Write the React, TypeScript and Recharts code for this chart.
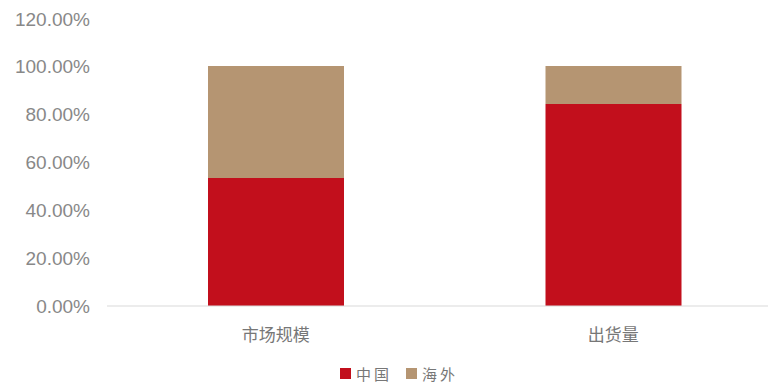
import { BarChart, Bar, XAxis, YAxis, Legend } from 'recharts';

const categories = ['市场规模', '出货量'];
const chinaShare = [53.3, 84.2];
const overseasShare = [46.7, 15.8];
const yTicks = [0, 20, 40, 60, 80, 100, 120];

const data = categories.map((name, i) => ({ name, china: chinaShare[i], overseas: overseasShare[i] }));

const RED = '#C20F1C';
const TAN = '#B59572';

const renderLegend = () => (
  <div style={{ display: 'flex', justifyContent: 'center', alignItems: 'center', fontFamily: '"Noto Sans CJK SC", sans-serif', fontSize: 15, color: '#777', lineHeight: '15px', paddingTop: 3, paddingLeft: 8 }}>
    <span style={{ display: 'inline-block', width: 11, height: 11, background: RED, marginRight: 5 }} />
    <span style={{ marginRight: 14, letterSpacing: 3 }}>中国</span>
    <span style={{ display: 'inline-block', width: 11, height: 11, background: TAN, marginRight: 5 }} />
    <span style={{ letterSpacing: 3 }}>海外</span>
  </div>
);

const App = () => (
  <BarChart width={766} height={377} data={data} margin={{ top: 10, right: -8, left: 0, bottom: 0 }} barSize={136}>
    <XAxis
      dataKey="name"
      axisLine={{ stroke: '#d9d9d9' }}
      tickLine={false}
      height={57}
      tickMargin={17}
      tick={{ fill: '#777', fontSize: 17, fontFamily: '"Noto Sans CJK SC", sans-serif' }}
    />
    <YAxis
      domain={[0, 120]}
      ticks={yTicks}
      width={99}
      axisLine={false}
      tickLine={false}
      tickSize={0}
      tickMargin={17}
      tickFormatter={(v: number) => `${v.toFixed(2)}%`}
      tick={{ fill: '#888', fontSize: 19, fontFamily: '"Liberation Sans", Arial, sans-serif' }}
    />
    <Legend verticalAlign="bottom" height={22} content={renderLegend} />
    <Bar dataKey="china" name="中国" stackId="a" fill={RED} isAnimationActive={false} />
    <Bar dataKey="overseas" name="海外" stackId="a" fill={TAN} isAnimationActive={false} />
  </BarChart>
);

export default App;
